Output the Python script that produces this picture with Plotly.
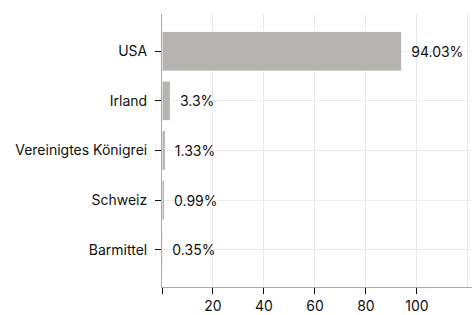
import plotly.graph_objects as go

categories = ["USA", "Irland", "Vereinigtes Königrei", "Schweiz", "Barmittel"]
values = [94.03, 3.3, 1.33, 0.99, 0.35]
labels = ["94.03%", "3.3%", "1.33%", "0.99%", "0.35%"]
tick_vals = [0, 20, 40, 60, 80, 100]
tick_text = ["", "20", "40", "60", "80", "100"]

fig = go.Figure(go.Bar(
    x=values, y=categories, orientation="h",
    marker=dict(color="#b5b4b0", line=dict(color="white", width=1)),
    width=0.8,
    text=["\u00a0\u2009" + t for t in labels], textposition="outside", cliponaxis=False,
    textfont=dict(color="#111", size=14, family="Inter"),
))
fig.update_layout(
    width=476, height=315,
    margin=dict(l=162, r=4, t=14, b=28, autoexpand=False),
    plot_bgcolor="white", paper_bgcolor="white",
    font=dict(family="Inter", size=14, color="#111"),
    showlegend=False,
)
fig.update_xaxes(
    range=[0, 121.6], tickvals=tick_vals, ticktext=tick_text,
    showgrid=True, gridcolor="#ebebeb", gridwidth=1,
    minor=dict(tickvals=[120], showgrid=True, gridcolor="#ebebeb", ticks=""),
    showline=True, linecolor="#aaa", linewidth=1,
    ticks="outside", ticklen=6, tickcolor="#111", tickwidth=1,
    zeroline=False, automargin=False,
)
fig.update_yaxes(
    categoryorder="array", categoryarray=categories,
    range=[4.75, -0.75],
    showgrid=True, gridcolor="#ebebeb", gridwidth=1,
    showline=True, linecolor="#aaa", linewidth=1,
    ticks="outside", ticklen=6, tickcolor="#111", tickwidth=1,
    ticklabelstandoff=5, automargin=False,
)
fig.write_html("out.html", config={"displayModeBar": False},
               post_script="document.body.style.margin='0';")
